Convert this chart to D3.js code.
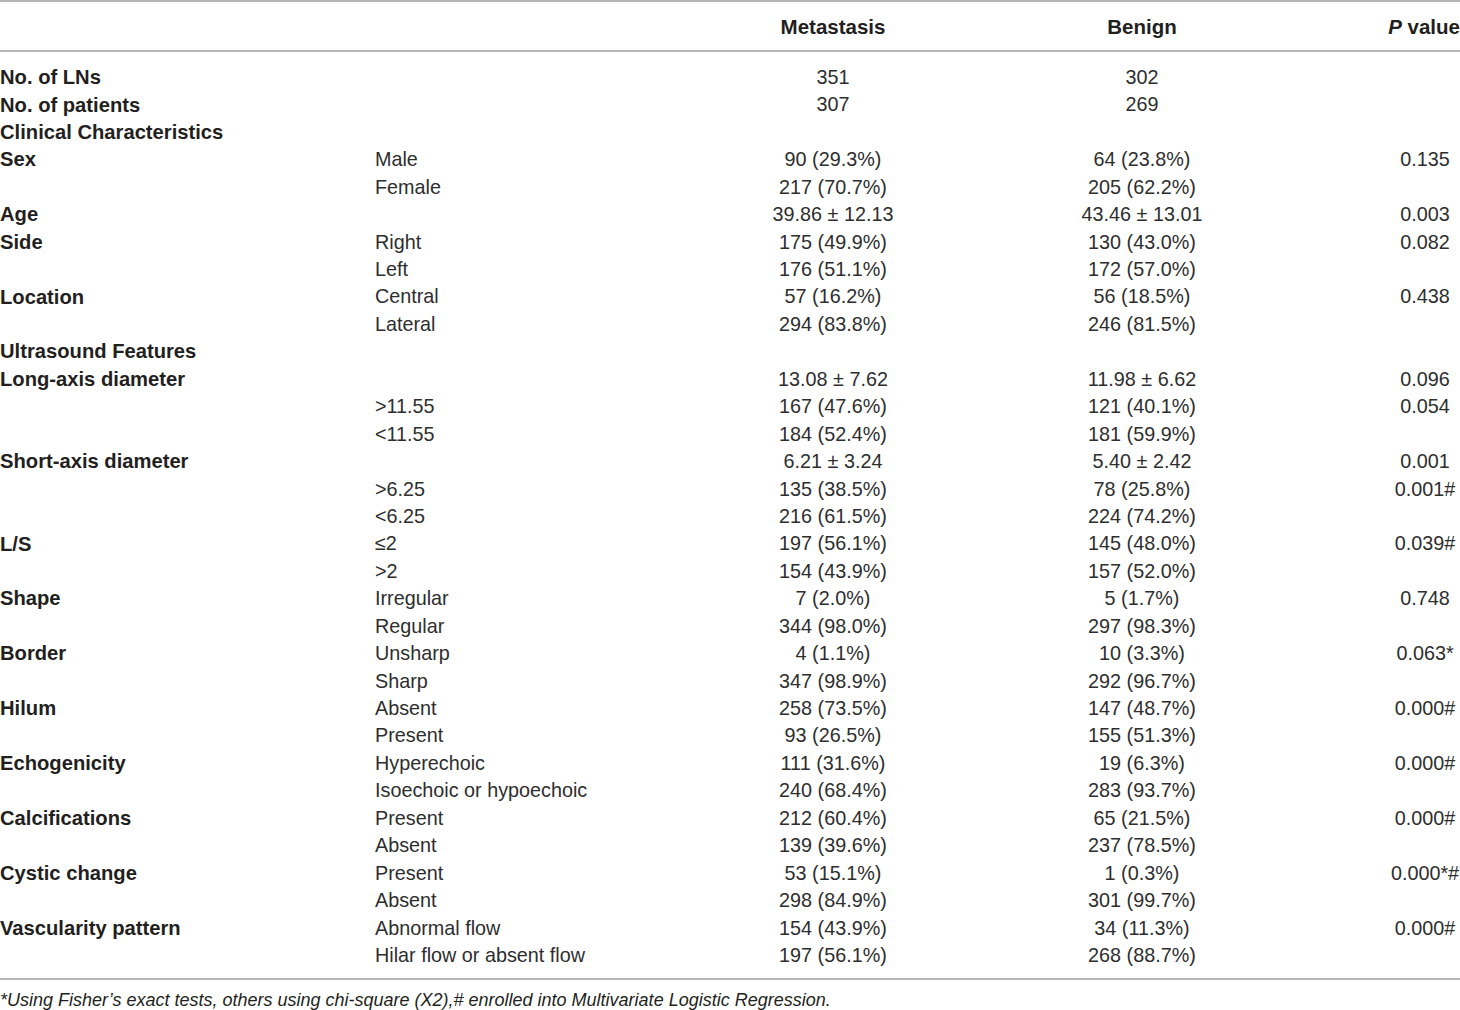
<!DOCTYPE html>
<html>
<head>
<meta charset="utf-8">
<script src="https://cdn.jsdelivr.net/npm/d3@7"></script>
<style>
body { margin: 0; background: #fff; }
svg text { font-family: "Liberation Sans", Arial, sans-serif; fill: #231f20; }
</style>
</head>
<body>
<div id="chart"></div>
<script>
var WIDTH = 1460;
var HEIGHT = 1010;

var headers = ["", "", "Metastasis", "Benign", "P value"];
var groupLabels = ["No. of LNs", "No. of patients", "Clinical Characteristics", "Sex", "", "Age", "Side", "", "Location", "",
	"Ultrasound Features", "Long-axis diameter", "", "", "Short-axis diameter", "", "", "L/S", "", "Shape", "", "Border", "",
	"Hilum", "", "Echogenicity", "", "Calcifications", "", "Cystic change", "", "Vascularity pattern", ""];
var subLabels = ["", "", "", "Male", "Female", "", "Right", "Left", "Central", "Lateral",
	"", "", ">11.55", "<11.55", "", ">6.25", "<6.25", "≤2", ">2", "Irregular", "Regular", "Unsharp", "Sharp",
	"Absent", "Present", "Hyperechoic", "Isoechoic or hypoechoic", "Present", "Absent", "Present", "Absent",
	"Abnormal flow", "Hilar flow or absent flow"];
var metastasis = ["351", "307", "", "90 (29.3%)", "217 (70.7%)", "39.86 ± 12.13", "175 (49.9%)", "176 (51.1%)", "57 (16.2%)", "294 (83.8%)",
	"", "13.08 ± 7.62", "167 (47.6%)", "184 (52.4%)", "6.21 ± 3.24", "135 (38.5%)", "216 (61.5%)", "197 (56.1%)", "154 (43.9%)",
	"7 (2.0%)", "344 (98.0%)", "4 (1.1%)", "347 (98.9%)", "258 (73.5%)", "93 (26.5%)", "111 (31.6%)", "240 (68.4%)",
	"212 (60.4%)", "139 (39.6%)", "53 (15.1%)", "298 (84.9%)", "154 (43.9%)", "197 (56.1%)"];
var benign = ["302", "269", "", "64 (23.8%)", "205 (62.2%)", "43.46 ± 13.01", "130 (43.0%)", "172 (57.0%)", "56 (18.5%)", "246 (81.5%)",
	"", "11.98 ± 6.62", "121 (40.1%)", "181 (59.9%)", "5.40 ± 2.42", "78 (25.8%)", "224 (74.2%)", "145 (48.0%)", "157 (52.0%)",
	"5 (1.7%)", "297 (98.3%)", "10 (3.3%)", "292 (96.7%)", "147 (48.7%)", "155 (51.3%)", "19 (6.3%)", "283 (93.7%)",
	"65 (21.5%)", "237 (78.5%)", "1 (0.3%)", "301 (99.7%)", "34 (11.3%)", "268 (88.7%)"];
var pValues = ["", "", "", "0.135", "", "0.003", "0.082", "", "0.438", "",
	"", "0.096", "0.054", "", "0.001", "0.001#", "", "0.039#", "", "0.748", "", "0.063*", "",
	"0.000#", "", "0.000#", "", "0.000#", "", "0.000*#", "", "0.000#", ""];
var footnote = "*Using Fisher\u2019s exact tests, others using chi-square (X2),# enrolled into Multivariate Logistic Regression.";

var rows = d3.range(groupLabels.length).map(function (i) {
	return [groupLabels[i], subLabels[i], metastasis[i], benign[i], pValues[i]];
});

var svg = d3.select("#chart")
	.append("svg")
	.attr("width", WIDTH)
	.attr("height", HEIGHT);

// row centres
var yScale = d3.scalePoint()
	.domain(d3.range(rows.length))
	.range([77, 955]);

// column anchors
var colX = [0, 375, 833, 1142, 1425];
var colAnchor = ["start", "start", "middle", "middle", "middle"];

// rules
var rules = [1, 51, 979];
svg.selectAll(".rule")
	.data(rules)
	.join("line")
	.attr("class", "rule")
	.attr("x1", 0)
	.attr("x2", WIDTH)
	.attr("y1", function (d) { return d; })
	.attr("y2", function (d) { return d; })
	.attr("stroke", "#9d9d9d")
	.attr("stroke-width", 1.5);

// header
var head = svg.append("g").attr("class", "header");
headers.forEach(function (h, j) {
	if (!h) return;
	var t = head.append("text")
		.attr("x", j === 4 ? WIDTH : colX[j])
		.attr("y", 27)
		.attr("dy", "0.35em")
		.attr("text-anchor", j === 4 ? "end" : colAnchor[j])
		.style("font-size", "20.5px")
		.style("font-weight", "bold");
	if (h === "P value") {
		t.append("tspan").style("font-style", "italic").text("P");
		t.append("tspan").text(" value");
	} else {
		t.text(h);
	}
});

// body
var rowG = svg.selectAll(".row")
	.data(rows)
	.join("g")
	.attr("class", "row")
	.attr("transform", function (d, i) { return "translate(0," + yScale(i) + ")"; });

rowG.selectAll("text")
	.data(function (d) { return d; })
	.join("text")
	.attr("x", function (d, j) { return colX[j]; })
	.attr("dy", "0.35em")
	.attr("text-anchor", function (d, j) { return colAnchor[j]; })
	.style("font-size", function (d, j) { return j === 0 ? "20.2px" : "19.8px"; })
	.style("font-weight", function (d, j) { return j === 0 ? "bold" : "normal"; })
	.style("fill", function (d, j) { return j === 0 ? "#231f20" : "#2e2e2e"; })
	.text(function (d) { return d; });

svg.append("text")
	.attr("x", 0)
	.attr("y", 1000)
	.attr("dy", "0.35em")
	.style("font-size", "18px")
	.style("font-style", "italic")
	.text(footnote);
</script>
</body>
</html>
